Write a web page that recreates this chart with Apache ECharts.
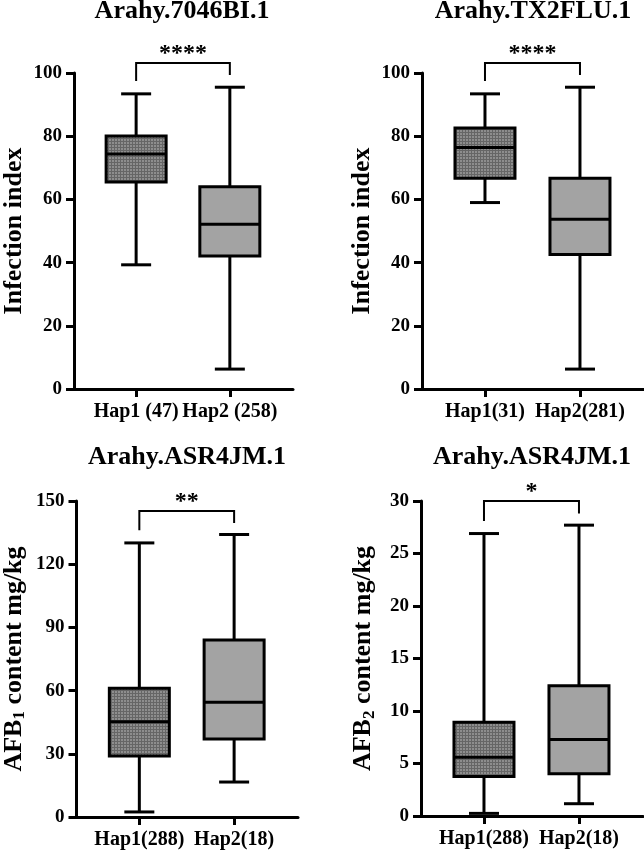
<!DOCTYPE html>
<html>
<head>
<meta charset="utf-8">
<script src="https://cdn.jsdelivr.net/npm/echarts@6/dist/echarts.min.js"></script>
<style>
  html, body { margin: 0; padding: 0; background: #fff; }
  #chart { width: 644px; height: 851px; }
</style>
</head>
<body>
<div id="chart"></div>
<script>
// panel texts
const titles = ["Arahy.7046BI.1", "Arahy.TX2FLU.1", "Arahy.ASR4JM.1", "Arahy.ASR4JM.1"];
const yNames = ["Infection index", "Infection index", "AFB{sub|1} content mg/kg", "AFB{sub|2} content mg/kg"];
const categories = [
  ["Hap1 (47)", "Hap2 (258)"],
  ["Hap1(31)", "Hap2(281)"],
  ["Hap1(288)", "Hap2(18)"],
  ["Hap1(288)", "Hap2(18)"]
];

// y scales
const yMax = [100, 100, 150, 30];
const yStep = [20, 20, 30, 5];

// box stats: [min, Q1, median, Q3, max]
const hap1Stats = [
  [39.3, 65.5, 74.4, 80.1, 93.4],
  [59.0, 66.7, 76.4, 82.6, 93.4],
  [2.4, 29.0, 45.2, 61.1, 130.1],
  [0.25, 3.76, 5.6, 8.94, 26.9]
];
const hap2Stats = [
  [6.3, 42.1, 52.1, 64.0, 95.5],
  [6.3, 42.6, 53.7, 66.7, 95.5],
  [16.6, 37.0, 54.5, 84.0, 134.1],
  [1.17, 4.02, 7.28, 12.4, 27.7]
];

// significance brackets
const sigMarks = ["****", "****", "**", "*"];
const bracketTop = [103.2, 103.2, 145.3, 30.0];
const bracketLeft = [97.5, 97.5, 136.1, 28.1];
const bracketRight = [99.4, 99.4, 139.6, 28.8];

const grids = [
  { left: 71, top: 73, width: 222, height: 316 },
  { left: 422, top: 73, width: 222, height: 316 },
  { left: 76, top: 501, width: 222, height: 316 },
  { left: 421, top: 501, width: 222, height: 315 }
];
const nameGaps = [47, 47, 48, 43];
const font = "Liberation Serif, Times New Roman, serif";

// hatched fill for Hap1 boxes
const tile = document.createElement("canvas");
tile.width = 3;
tile.height = 3;
const tctx = tile.getContext("2d");
tctx.fillStyle = "#8e8e8e";
tctx.fillRect(0, 0, 3, 3);
tctx.fillStyle = "#666666";
tctx.fillRect(0, 0, 3, 1);
tctx.fillRect(0, 0, 1, 3);
const hatch = { type: "pattern", image: tile, repeat: "repeat" };

const renderBox = (params, api) => {
  const x = api.value(0);
  const p = (v) => api.coord([x, v]);
  const mn = p(api.value(1)), q1 = p(api.value(2)), md = p(api.value(3)),
    q3 = p(api.value(4)), mx = p(api.value(5));
  const cx = mn[0];
  const bh = 30, ch = 15;
  const ls = { stroke: "#000", lineWidth: 3, fill: null };
  const fill = params.dataIndex === 0 ? hatch : "#a3a3a3";
  return {
    type: "group",
    children: [
      { type: "line", shape: { x1: cx, y1: mx[1], x2: cx, y2: q3[1] }, style: ls },
      { type: "line", shape: { x1: cx, y1: q1[1], x2: cx, y2: mn[1] }, style: ls },
      { type: "line", shape: { x1: cx - ch, y1: mx[1], x2: cx + ch, y2: mx[1] }, style: ls },
      { type: "line", shape: { x1: cx - ch, y1: mn[1], x2: cx + ch, y2: mn[1] }, style: ls },
      { type: "rect", shape: { x: cx - bh, y: q3[1], width: bh * 2, height: q1[1] - q3[1] },
        style: { fill: fill, stroke: "#000", lineWidth: 3 } },
      { type: "line", shape: { x1: cx - bh, y1: md[1], x2: cx + bh, y2: md[1] }, style: ls }
    ]
  };
};

const renderBracket = (params, api) => {
  const l = api.coord([1, api.value(1)]);
  const r = api.coord([2, api.value(2)]);
  const tl = api.coord([1, api.value(0)]);
  const tr = api.coord([2, api.value(0)]);
  const top = tl[1];
  return {
    type: "group",
    children: [
      { type: "polyline", shape: { points: [[l[0], l[1]], [tl[0], top], [tr[0], top], [r[0], r[1]]] },
        style: { stroke: "#000", lineWidth: 2, fill: null } },
      { type: "text", x: (tl[0] + tr[0]) / 2, y: top - 9,
        style: { text: sigMarks[params.seriesIndex / 2 | 0], fill: "#000", font: "bold 24px " + font,
          align: "center", verticalAlign: "middle" } }
    ]
  };
};

const myChart = echarts.init(document.getElementById("chart"));
const option = {
  backgroundColor: "#fff",
  animation: false,
  title: grids.map((g, i) => ({
    text: titles[i],
    left: g.left + g.width / 2,
    top: i < 2 ? -2 : 444,
    textAlign: "center",
    padding: 0,
    textStyle: { fontFamily: font, fontWeight: "bold", fontSize: 26, color: "#000" }
  })),
  grid: grids,
  xAxis: grids.map((g, i) => ({
    type: "value",
    gridIndex: i,
    min: 0.337,
    max: 2.674,
    splitLine: { show: false },
    axisLine: { show: true, lineStyle: { color: "#000", width: 3 } },
    axisTick: { show: true, customValues: [1, 2], length: 8, lineStyle: { color: "#000", width: 3 } },
    axisLabel: {
      customValues: [1, 2],
      formatter: (v) => categories[i][Math.round(v) - 1],
      margin: 13,
      color: "#000",
      fontFamily: font,
      fontWeight: "bold",
      fontSize: 20
    }
  })),
  yAxis: grids.map((g, i) => ({
    type: "value",
    gridIndex: i,
    min: 0,
    max: yMax[i],
    interval: yStep[i],
    name: yNames[i],
    nameLocation: "middle",
    nameGap: nameGaps[i],
    nameTextStyle: {
      fontFamily: font, fontWeight: "bold", fontSize: 26, color: "#000",
      rich: { sub: { fontFamily: font, fontWeight: "bold", fontSize: 17, color: "#000",
        verticalAlign: "bottom", padding: [12, 0, 0, 0] } }
    },
    splitLine: { show: false },
    axisLine: { show: true, lineStyle: { color: "#000", width: 3 } },
    axisTick: { show: true, length: 8, lineStyle: { color: "#000", width: 3 } },
    axisLabel: { margin: 12, color: "#000", fontFamily: font, fontWeight: "bold", fontSize: 19 }
  })),
  series: []
};

grids.forEach((g, i) => {
  option.series.push({
    type: "custom",
    xAxisIndex: i,
    yAxisIndex: i,
    clip: false,
    renderItem: renderBox,
    data: [[1].concat(hap1Stats[i]), [2].concat(hap2Stats[i])]
  });
  option.series.push({
    type: "custom",
    xAxisIndex: i,
    yAxisIndex: i,
    clip: false,
    renderItem: renderBracket,
    data: [[bracketTop[i], bracketLeft[i], bracketRight[i]]]
  });
});

option && myChart.setOption(option);
window.addEventListener("resize", function () {
  myChart.resize();
});
</script>
</body>
</html>
